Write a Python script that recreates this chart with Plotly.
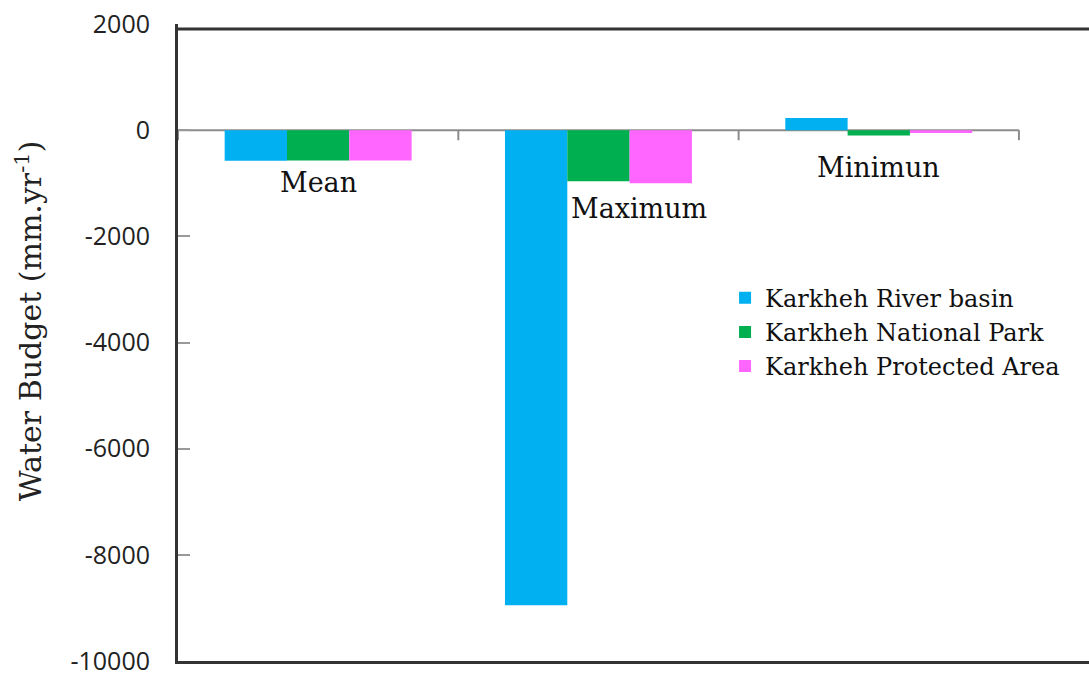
import plotly.graph_objects as go

categories = ["Mean", "Maximum", "Minimun"]
series_names = ["Karkheh River basin", "Karkheh National Park", "Karkheh Protected Area"]
river_basin = [-575, -8950, 230]
national_park = [-570, -960, -100]
protected_area = [-570, -1000, -55]
colors = ["#00B0F0", "#00B050", "#FF66FF"]
y_ticks = [2000, 0, -2000, -4000, -6000, -8000, -10000]
y_title = "Water Budget (mm.yr<sup>-1</sup>)"

serif = "DejaVu Serif"
sans = "Open Sans"

fig = go.Figure()
for name, vals, col in zip(series_names, [river_basin, national_park, protected_area], colors):
    fig.add_trace(go.Bar(x=list(range(len(categories))), y=vals, name=name,
                         marker=dict(color=col, line=dict(width=0))))

# category axis drawn at zero (line + boundary ticks)
n = len(categories)
shapes = [dict(type="line", xref="x", yref="y", x0=-0.5, x1=n - 0.5, y0=0, y1=0,
               line=dict(color="#8c8c8c", width=2), layer="below")]
for i in range(n + 1):
    shapes.append(dict(type="line", xref="x", yref="y", x0=i - 0.5, x1=i - 0.5, y0=0, y1=-190,
                       line=dict(color="#8c8c8c", width=2)))
# top frame line
shapes.append(dict(type="line", xref="paper", yref="paper", x0=0, x1=1, y0=0.992, y1=0.992,
                   line=dict(color="#333333", width=3)))

label_pos = {"Mean": (0, -985, 0), "Maximum": (1, -1470, 41), "Minimun": (2, -700, 0)}
annotations = []
for c in categories:
    xi, yv, xs = label_pos[c]
    annotations.append(dict(x=xi, y=yv, xref="x", yref="y", text=c, showarrow=False,
                            xshift=xs, font=dict(family=serif, size=27, color="#111111")))
# y-axis title
annotations.append(dict(x=-0.1636, y=0.535, xref="paper", yref="paper", text=y_title,
                        textangle=-90, showarrow=False, xanchor="center", yanchor="middle",
                        font=dict(family=serif, size=30, color="#222222")))

fig.update_layout(
    width=1089, height=679,
    margin=dict(l=178, r=0, t=24, b=18),
    paper_bgcolor="white", plot_bgcolor="white",
    barmode="group", bargap=0.333, bargroupgap=0,
    showlegend=True,
    legend=dict(x=0.6005, y=0.605, xanchor="left", yanchor="top",
                font=dict(family=serif, size=24, color="#111111"),
                bgcolor="rgba(0,0,0,0)", tracegroupgap=0, itemwidth=30),
    xaxis=dict(range=[-0.5, 2.75], showticklabels=False, ticks="", showgrid=False,
               zeroline=False, showline=True, linecolor="#333333", linewidth=3, mirror=False),
    yaxis=dict(range=[-10000, 2000], tickvals=y_ticks, ticktext=[str(v) for v in y_ticks],
               ticks="inside", ticklen=12, tickcolor="#999999", tickwidth=1.5,
               showgrid=False, zeroline=False, showline=True, linecolor="#333333", linewidth=3,
               tickfont=dict(family=sans, size=25, color="#222222"), ticklabelstandoff=20,
               ticklabeloverflow="allow", automargin=False),
    shapes=shapes, annotations=annotations,
)

fig.write_html("out.html", config={"displayModeBar": False},
               post_script="document.body.style.margin='0';")
